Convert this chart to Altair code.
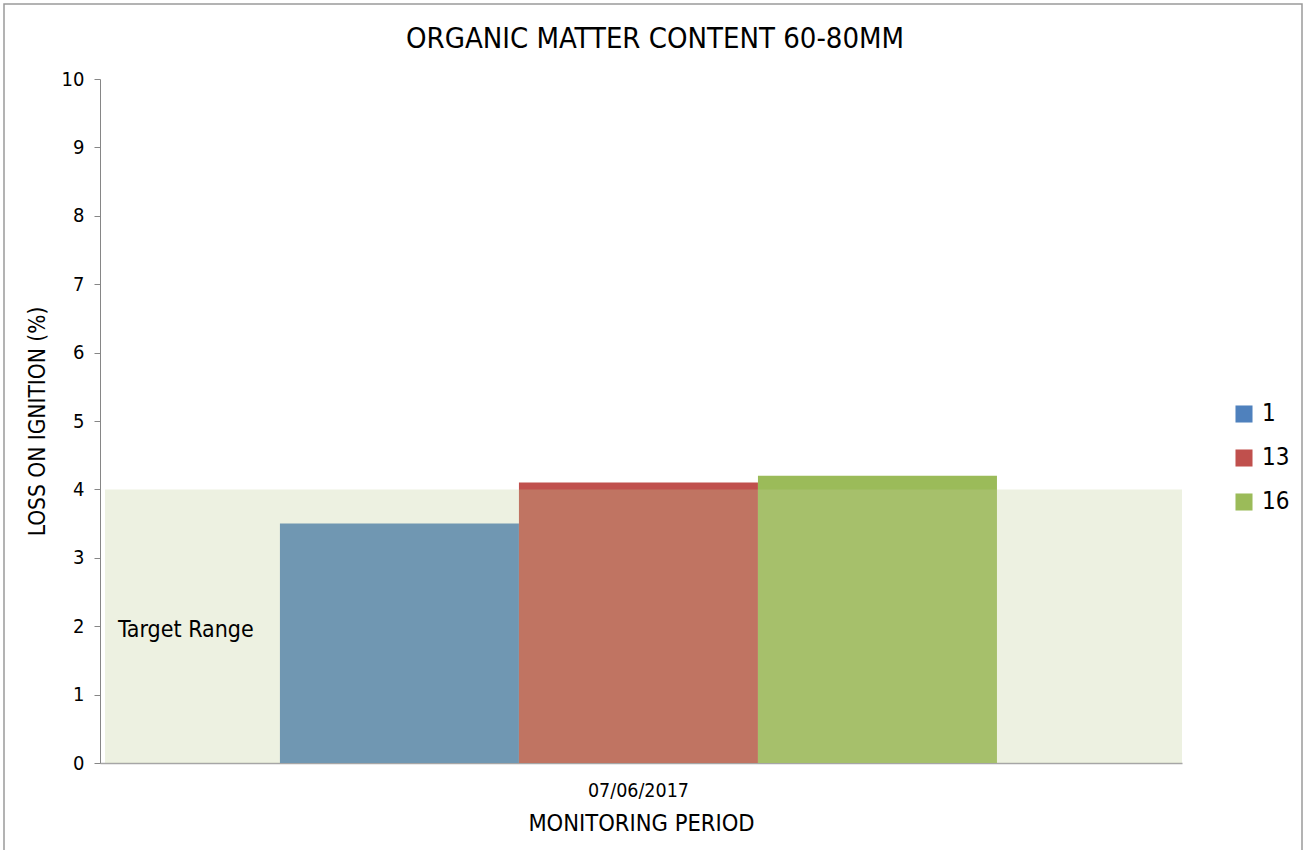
import altair as alt
import pandas as pd

# Loss on ignition per sample point, one monitoring date
period = ["07/06/2017"]
points = ["1", "13", "16"]
loss_on_ignition = [3.5, 4.1, 4.2]
target_low, target_high = 0, 4
chart_title = "ORGANIC MATTER CONTENT 60-80MM"

colors = ["#4F81BD", "#C0504D", "#9BBB59"]
FONT = "DejaVu Sans Condensed, Liberation Sans, sans-serif"

W, H = 1082, 684

bars_df = pd.DataFrame({
    "period": period * len(points),
    "point": points,
    "loi": loss_on_ignition,
})
band_df = pd.DataFrame({"lo": [target_low], "hi": [target_high]})

bars = alt.Chart(bars_df).mark_bar(opacity=1).encode(
    x=alt.X("period:N", title="MONITORING PERIOD",
            scale=alt.Scale(paddingInner=0, paddingOuter=0.2545, align=0.493),
            axis=alt.Axis(labelAngle=0, ticks=False, labelPadding=18,
                          titlePadding=12, domainColor="#A6A6A6", domainWidth=1.5)),
    xOffset=alt.XOffset("point:N", sort=points,
                        scale=alt.Scale(paddingInner=0, paddingOuter=0)),
    y=alt.Y("loi:Q", title="LOSS ON IGNITION (%)",
            scale=alt.Scale(domain=[0, 10], nice=False),
            axis=alt.Axis(values=list(range(0, 11)), format="d", tickSize=6, grid=False,
                          domainColor="#868686", tickColor="#868686",
                          labelPadding=10, titlePadding=12)),
    color=alt.Color("point:N", sort=points,
                    scale=alt.Scale(domain=points, range=colors),
                    legend=alt.Legend(title=None, orient="none", legendX=1132, legendY=323,
                                      symbolType="square", symbolSize=290,
                                      symbolStrokeWidth=0, labelFontSize=24,
                                      labelFont=FONT, rowPadding=20, labelOffset=6)),
)

# Translucent target range drawn over the bars
band = alt.Chart(band_df).mark_rect(color="#C1CF98", opacity=0.29).encode(
    x=alt.value(5), x2=alt.value(W),
    y="lo:Q", y2="hi:Q",
)

band_label = alt.Chart(pd.DataFrame({"t": ["Target Range"], "v": [2]})).mark_text(
    align="left", baseline="middle", font=FONT, fontSize=23, color="#000000", dy=4
).encode(x=alt.value(18), y="v:Q", text="t:N")

title_text = alt.Chart(pd.DataFrame({"t": [chart_title]})).mark_text(
    align="center", baseline="alphabetic", font=FONT, fontSize=29, color="#000000"
).encode(x=alt.value(555), y=alt.value(-31), text="t:N")

frame = alt.Chart(pd.DataFrame({"a": [0]})).mark_rect(
    fill=None, stroke="#9A9A9A", strokeWidth=1.5
).encode(x=alt.value(-96), x2=alt.value(1202), y=alt.value(-75), y2=alt.value(800))

chart = alt.layer(frame, bars, band, band_label, title_text).properties(
    width=W, height=H,
    padding={"left": 100, "top": 79, "right": 124, "bottom": 87},
    autosize=alt.AutoSizeParams(type="none"),
).configure_view(stroke=None).configure_axis(
    labelFont=FONT, titleFont=FONT, labelFontSize=20, titleFontSize=22.5,
    labelColor="#000000", titleColor="#000000", titleFontWeight="normal",
).configure_axisX(labelFontSize=19.5, titleFontSize=23.5)

chart.save("out.html", embed_options={"renderer": "svg", "actions": False})
